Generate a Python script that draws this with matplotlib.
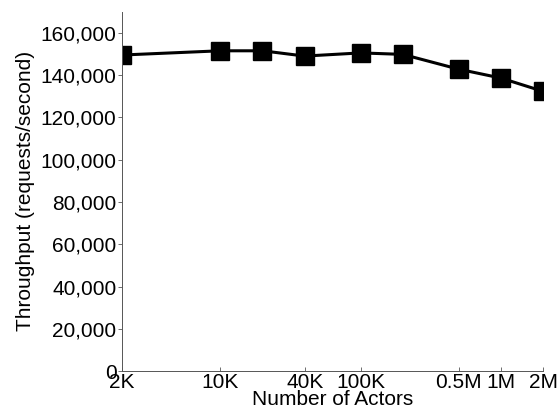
import matplotlib
matplotlib.use("Agg")
import matplotlib.pyplot as plt
from matplotlib.ticker import FuncFormatter, NullLocator

actors = [2e3, 1e4, 2e4, 4e4, 1e5, 2e5, 5e5, 1e6, 2e6]
throughput = [149500, 151500, 151500, 149000, 150500, 149800, 142800, 138600, 132300]
xtick_vals = [2e3, 1e4, 4e4, 1e5, 5e5, 1e6, 2e6]
xtick_labels = ["2K", "10K", "40K", "100K", "0.5M", "1M", "2M"]
ytick_vals = [0, 20000, 40000, 60000, 80000, 100000, 120000, 140000, 160000]

plt.rcParams['font.family'] = ['Liberation Sans', 'DejaVu Sans']

fig = plt.figure(figsize=(5.6, 4.17), dpi=100)
ax = fig.add_axes([0.218, 0.110, 0.752, 0.862])

ax.plot(actors, throughput, color='black', linewidth=2.2, marker='s',
        markersize=13, markerfacecolor='black', markeredgecolor='black')

ax.set_xscale('log')
ax.set_xlim(2e3, 2e6)
ax.set_ylim(0, 170000)
ax.xaxis.set_minor_locator(NullLocator())
ax.set_xticks(xtick_vals)
ax.set_xticklabels(xtick_labels)
ax.set_yticks(ytick_vals)
ax.yaxis.set_major_formatter(FuncFormatter(lambda v, p: f"{int(v):,}"))

for s in ['top', 'right']:
    ax.spines[s].set_visible(False)
for s in ['left', 'bottom']:
    ax.spines[s].set_color('#555555')
    ax.spines[s].set_linewidth(0.7)

ax.tick_params(axis='x', direction='in', length=3, width=0.6, color='#555555',
               labelsize=15, pad=1)
ax.tick_params(axis='y', direction='out', length=3, width=0.6, color='#555555',
               labelsize=15, pad=1)

ax.set_xlabel("Number of Actors", fontsize=15, labelpad=-1)
ax.set_ylabel("Throughput (requests/second)", fontsize=15, labelpad=4)

fig.savefig("out.png", dpi=100)
